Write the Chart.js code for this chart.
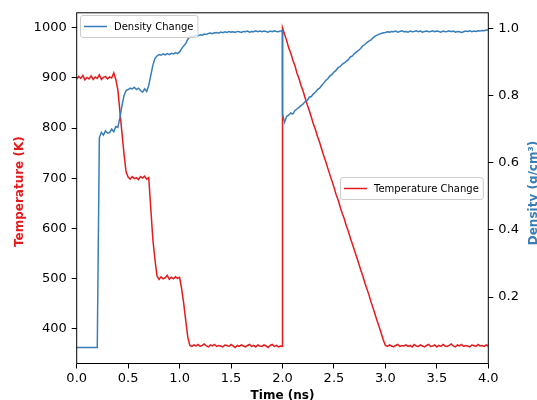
<!DOCTYPE html>
<html><head><meta charset="utf-8">
<script src="https://cdn.jsdelivr.net/npm/chart.js@4/dist/chart.umd.min.js"></script>
<style>html,body{margin:0;padding:0;background:#fff;} #wrap{width:537px;height:400px;}</style>
</head><body>
<div id="wrap"><canvas id="c" width="537" height="400"></canvas></div>
<script>
// time (ns), shared by both series
const timeNs = [
  0,0.02,0.04,0.06,0.08,0.1,0.12,0.14,0.16,0.18,
  0.2,0.22,0.24,0.26,0.28,0.3,0.32,0.34,0.36,0.38,
  0.4,0.42,0.44,0.46,0.48,0.5,0.52,0.54,0.56,0.58,
  0.6,0.62,0.64,0.66,0.68,0.7,0.72,0.74,0.76,0.78,
  0.8,0.82,0.84,0.86,0.88,0.9,0.92,0.94,0.96,0.98,
  1,1.02,1.04,1.06,1.08,1.1,1.12,1.14,1.16,1.18,
  1.2,1.22,1.24,1.26,1.28,1.3,1.32,1.34,1.36,1.38,
  1.4,1.42,1.44,1.46,1.48,1.5,1.52,1.54,1.56,1.58,
  1.6,1.62,1.64,1.66,1.68,1.7,1.72,1.74,1.76,1.78,
  1.8,1.82,1.84,1.86,1.88,1.9,1.92,1.94,1.96,1.98,
  1.999,
  2,2.02,2.04,2.06,2.08,2.1,2.12,2.14,2.16,2.18,
  2.2,2.22,2.24,2.26,2.28,2.3,2.32,2.34,2.36,2.38,
  2.4,2.42,2.44,2.46,2.48,2.5,2.52,2.54,2.56,2.58,
  2.6,2.62,2.64,2.66,2.68,2.7,2.72,2.74,2.76,2.78,
  2.8,2.82,2.84,2.86,2.88,2.9,2.92,2.94,2.96,2.98,
  3,3.02,3.04,3.06,3.08,3.1,3.12,3.14,3.16,3.18,
  3.2,3.22,3.24,3.26,3.28,3.3,3.32,3.34,3.36,3.38,
  3.4,3.42,3.44,3.46,3.48,3.5,3.52,3.54,3.56,3.58,
  3.6,3.62,3.64,3.66,3.68,3.7,3.72,3.74,3.76,3.78,
  3.8,3.82,3.84,3.86,3.88,3.9,3.92,3.94,3.96,3.98,
  4
];
// temperature (K)
const tempK = [
  898,903,899,905,896,901,898,904,897,902,
  899,906,897,901,903,898,902,900,910,897,
  876,833,790,748,712,702,698,703,699,701,
  697,703,700,704,698,701,640,578,538,505,
  498,503,499,501,506,498,502,499,503,500,
  502,479,450,415,382,366,364,367,365,368,
  364,366,369,365,363,367,365,368,364,366,
  365,363,367,366,364,368,365,362,366,364,
  367,365,363,366,368,364,366,363,367,365,
  364,367,365,362,366,368,364,366,363,365,
  364,
  1000,987,975,960,950,936,925,910,899,885,
  874,860,847,835,822,808,797,783,772,758,
  745,733,720,707,695,682,668,657,643,630,
  619,605,594,580,568,555,543,530,517,505,
  491,479,467,453,441,428,415,403,390,377,
  366,364,367,365,363,366,368,364,366,365,
  367,364,366,363,368,365,364,367,365,363,
  366,368,364,365,367,363,366,364,368,365,
  364,366,369,365,363,367,365,368,364,366,
  365,363,367,366,364,368,365,366,364,367,
  365
];
// density (g/cm3)
const densGcm3 = [
  0.05,0.05,0.05,0.05,0.05,0.05,0.05,0.05,0.05,0.05,
  0.05,0.675,0.69,0.682,0.695,0.688,0.69,0.70,0.692,0.708,
  0.705,0.735,0.77,0.80,0.815,0.818,0.822,0.82,0.825,0.818,
  0.822,0.815,0.81,0.82,0.812,0.83,0.86,0.89,0.91,0.918,
  0.922,0.92,0.924,0.921,0.925,0.922,0.926,0.924,0.928,0.925,
  0.93,0.94,0.948,0.955,0.968,0.975,0.977,0.976,0.979,0.978,
  0.981,0.98,0.983,0.982,0.985,0.986,0.984,0.987,0.988,0.986,
  0.989,0.987,0.99,0.988,0.991,0.989,0.99,0.988,0.991,0.99,
  0.988,0.991,0.99,0.992,0.989,0.991,0.99,0.993,0.99,0.992,
  0.99,0.992,0.991,0.989,0.992,0.99,0.993,0.991,0.99,0.992,
  0.992,
  0.745,0.72,0.738,0.742,0.748,0.745,0.755,0.76,0.765,0.77,
  0.775,0.782,0.785,0.795,0.797,0.805,0.81,0.818,0.822,0.83,
  0.837,0.845,0.85,0.858,0.863,0.87,0.875,0.883,0.886,0.893,
  0.897,0.902,0.907,0.915,0.918,0.925,0.93,0.935,0.94,0.948,
  0.952,0.958,0.962,0.966,0.972,0.977,0.98,0.983,0.985,0.987,
  0.988,0.99,0.989,0.991,0.99,0.992,0.989,0.991,0.993,0.99,
  0.991,0.989,0.992,0.99,0.991,0.993,0.99,0.992,0.989,0.991,
  0.992,0.99,0.991,0.993,0.99,0.992,0.991,0.989,0.992,0.99,
  0.991,0.993,0.99,0.992,0.989,0.991,0.99,0.988,0.99,0.992,
  0.991,0.993,0.99,0.992,0.991,0.993,0.992,0.994,0.993,0.995,
  0.995
];
const timeTicks = [0,0.5,1,1.5,2,2.5,3,3.5,4];
const tempTicks = [400,500,600,700,800,900,1000];
const densTicks = [0.2,0.4,0.6,0.8,1.0];

const RED = '#e41a1c', BLUE = '#377eb8';
const tickFont = {family:'"DejaVu Sans"', size:13};

function drawLegend(ctx, x, y, text, color, anchorRight){
  ctx.font = '10px "DejaVu Sans"';
  const tw = ctx.measureText(text).width;
  const w = 4+23+7+tw+4, h = 22;
  const left = Math.round(anchorRight ? x-w : x), top = Math.round(anchorRight ? y-h/2 : y);
  ctx.beginPath();
  if (ctx.roundRect) ctx.roundRect(left+0.5, top+0.5, w, h, 2.5); else ctx.rect(left+0.5, top+0.5, w, h);
  ctx.fillStyle = 'rgba(255,255,255,0.8)'; ctx.fill();
  ctx.strokeStyle = '#cccccc'; ctx.lineWidth = 1; ctx.stroke();
  ctx.beginPath(); ctx.moveTo(left+4, top+h/2+0.5); ctx.lineTo(left+27, top+h/2+0.5);
  ctx.strokeStyle = color; ctx.lineWidth = 1.5; ctx.stroke();
  ctx.fillStyle = '#000'; ctx.textBaseline = 'middle'; ctx.textAlign = 'left';
  ctx.fillText(text, left+34, top+h/2+1);
}

function vText(ctx, text, x, y, color){
  ctx.save(); ctx.translate(x, y); ctx.rotate(-Math.PI/2);
  ctx.font = 'bold 12px "DejaVu Sans"'; ctx.fillStyle = color;
  ctx.textAlign = 'center'; ctx.textBaseline = 'alphabetic';
  ctx.fillText(text, 0, 0); ctx.restore();
}

const frameAndLabels = {
  id:'frameAndLabels',
  afterDraw(chart){
    const {ctx, chartArea:a} = chart;
    ctx.save();
    ctx.strokeStyle = '#000'; ctx.lineWidth = 1;
    ctx.strokeRect(a.left, a.top, a.right-a.left, a.bottom-a.top);
    drawLegend(ctx, a.left+3, a.top+2, 'Density Change', BLUE, false);
    drawLegend(ctx, a.right-5, (a.top+a.bottom)/2, 'Temperature Change', RED, true);
    vText(ctx, 'Temperature (K)', 22.8, 191.7, RED);
    vText(ctx, 'Density (g/cm³)', 537, 193, BLUE);
    ctx.font = 'bold 12px "DejaVu Sans"'; ctx.fillStyle = '#000';
    ctx.textAlign = 'center'; ctx.textBaseline = 'alphabetic';
    ctx.fillText('Time (ns)', (a.left+a.right)/2, 398.5);
    ctx.restore();
  }
};

function fixedTicks(list){ return s => { s.ticks = list.map(v=>({value:v})); }; }

new Chart(document.getElementById('c'), {
  type:'line',
  data:{ datasets:[
    { label:'Density Change', yAxisID:'y1', borderColor:BLUE, borderWidth:1.5,
      data: timeNs.map((t,i)=>({x:t, y:densGcm3[i]})) },
    { label:'Temperature Change', yAxisID:'y', borderColor:RED, borderWidth:1.5,
      data: timeNs.map((t,i)=>({x:t, y:tempK[i]})) }
  ]},
  options:{
    responsive:false, animation:false,
    elements:{ point:{radius:0}, line:{tension:0} },
    layout:{ padding:{top:11, left:0, right:0, bottom:0} },
    plugins:{ legend:{display:false}, tooltip:{enabled:false} },
    scales:{
      x:{ type:'linear', min:0, max:4,
        afterBuildTicks: fixedTicks(timeTicks),
        afterFit: s=>{ s.height = 36.5; },
        grid:{ drawOnChartArea:false, tickLength:5, color:'#000' }, border:{display:false},
        ticks:{ font:tickFont, color:'#000', padding:2, maxRotation:0, autoSkip:false, callback:v=>v.toFixed(1) } },
      y:{ type:'linear', position:'left', min:330, max:1030,
        afterBuildTicks: fixedTicks(tempTicks),
        afterFit: s=>{ s.width = 76.7; },
        grid:{ drawOnChartArea:false, tickLength:5, color:'#000' }, border:{display:false},
        ticks:{ font:tickFont, color:'#000', padding:5, autoSkip:false, callback:v=>String(v) } },
      y1:{ type:'linear', position:'right', min:0.002, max:1.0465,
        afterBuildTicks: fixedTicks(densTicks),
        afterFit: s=>{ s.width = 48.7; },
        grid:{ drawOnChartArea:false, tickLength:5, color:'#000' }, border:{display:false},
        ticks:{ font:tickFont, color:'#000', padding:5, autoSkip:false, callback:v=>v.toFixed(1) } }
    }
  },
  plugins:[frameAndLabels]
});
</script>
</body></html>
